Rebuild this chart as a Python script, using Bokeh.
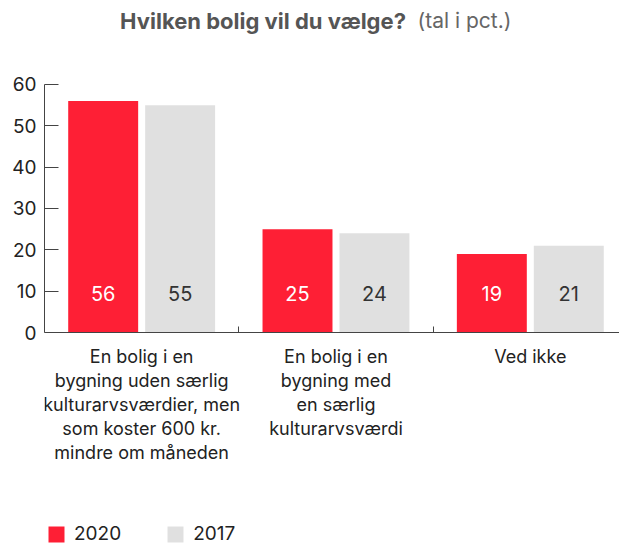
from bokeh.plotting import figure
from bokeh.models import (ColumnDataSource, Range1d, LinearAxis, FixedTicker, Label,
                          LabelSet, Legend, LegendItem)
from bokeh.core.properties import value
from bokeh.transform import dodge
from bokeh.embed import file_html
from bokeh.resources import INLINE

title_main = "Hvilken bolig vil du vælge?"
title_sub = "(tal i pct.)"
categories = ["En bolig i en\nbygning uden særlig\nkulturarvsværdier, men\nsom koster 600 kr.\nmindre om måneden",
              "En bolig i en\nbygning med\nen særlig\nkulturarvsværdi",
              "Ved ikke"]
v2020 = [56, 25, 19]
v2017 = [55, 24, 21]
y_ticks = [0, 10, 20, 30, 40, 50, 60]
series_names = ["2020", "2017"]

RED = "#fe1f35"
GREY = "#e0e0e0"
FONT = "Inter"

xc = [i + 0.5 for i in range(len(categories))]
bounds = [i + 1 for i in range(len(categories) - 1)]
src = ColumnDataSource(dict(x=xc, v2020=v2020, v2017=v2017,
                            t2020=[str(v) for v in v2020], t2017=[str(v) for v in v2017],
                            ly=[9.44] * len(categories), cy=[-3.3] * len(categories),
                            cat=categories))

p = figure(frame_width=575, frame_height=545, output_backend="svg", toolbar_location=None,
           x_range=Range1d(0, 2.959), y_range=Range1d(-51.53, 80.32),
           x_axis_type=None, y_axis_type=None,
           min_border_left=44, min_border_right=0, min_border_top=0, min_border_bottom=0)
p.outline_line_color = None
p.xgrid.visible = False
p.ygrid.visible = False
p.background_fill_color = "white"
p.border_fill_color = "white"

r1 = p.vbar(x=dodge("x", -0.198, range=p.x_range), top="v2020", width=0.36, source=src,
            fill_color=RED, line_color=None)
r2 = p.vbar(x=dodge("x", 0.198, range=p.x_range), top="v2017", width=0.36, source=src,
            fill_color=GREY, line_color=None)

p.add_layout(LabelSet(x=dodge("x", -0.198, range=p.x_range), y="ly", text="t2020", source=src,
                      text_align="center", text_baseline="middle", text_color="white",
                      text_font_size="20px", text_font=value(FONT)))
p.add_layout(LabelSet(x=dodge("x", 0.198, range=p.x_range), y="ly", text="t2017", source=src,
                      text_align="center", text_baseline="middle", text_color="#333333",
                      text_font_size="20px", text_font=value(FONT)))

# category labels under the axis
p.text(x="x", y="cy", text="cat", source=src, text_align="center", text_baseline="top",
       text_font=value(FONT), text_font_size="18px", text_color="#222222",
       text_line_height=1.145)

# y axis
yax = LinearAxis(ticker=FixedTicker(ticks=y_ticks), bounds=(0, 60))
yax.major_tick_in = 14
yax.major_tick_out = 0
yax.minor_tick_line_color = None
yax.axis_line_color = "#444444"
yax.major_tick_line_color = "#444444"
yax.major_label_text_font = FONT
yax.major_label_text_font_size = "19px"
yax.major_label_text_color = "#222222"
yax.major_label_standoff = 8
p.add_layout(yax, "left")

# x axis line at 0 with ticks at category boundaries (no labels)
xax = LinearAxis(ticker=FixedTicker(ticks=bounds), fixed_location=0,
                 major_label_overrides={b: "" for b in bounds})
xax.major_tick_in = 6
xax.major_tick_out = 0
xax.minor_tick_line_color = None
xax.axis_line_color = "#444444"
xax.major_tick_line_color = "#444444"
xax.major_label_standoff = 0
xax.major_label_text_font_size = "1px"
p.add_layout(xax, "below")

# title (two styles)
p.add_layout(Label(x=1.86, y=75.48, text=title_main,
                   text_align="right", text_baseline="middle", text_font=FONT,
                   text_font_style="bold", text_font_size="22px", text_color="#555555"))
p.add_layout(Label(x=1.920, y=75.48, text=title_sub,
                   text_align="left", text_baseline="middle", text_font=FONT,
                   text_font_size="21px", text_color="#666666"))

legend = Legend(items=[LegendItem(label=series_names[0], renderers=[r1]),
                       LegendItem(label=series_names[1], renderers=[r2])],
                orientation="horizontal", location=(2, 0))
legend.glyph_width = 20
legend.glyph_height = 20
legend.label_text_font = FONT
legend.label_text_font_size = "19px"
legend.label_text_color = "#222222"
legend.label_standoff = 8
legend.spacing = 44
legend.border_line_color = None
legend.background_fill_alpha = 0
legend.margin = 0
legend.padding = 0
p.add_layout(legend)

open("out.html", "w").write(file_html(p, INLINE))
